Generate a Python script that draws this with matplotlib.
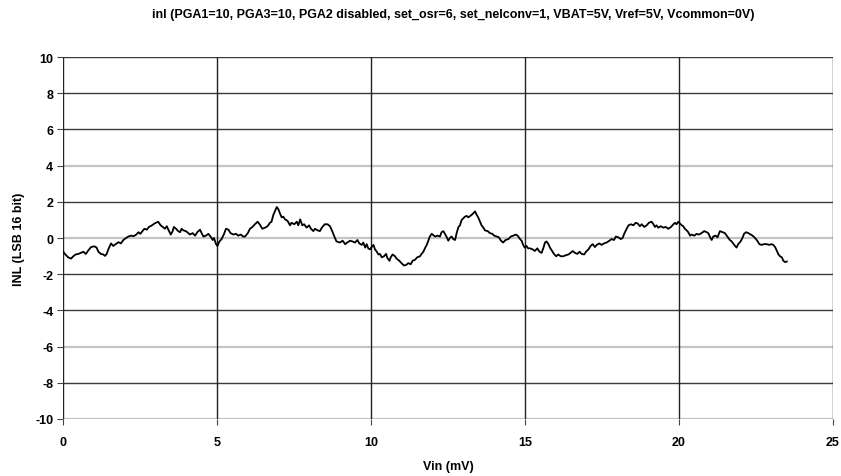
import matplotlib
matplotlib.use("Agg")
import matplotlib.pyplot as plt

plt.rcParams['font.family'] = ['Liberation Sans', 'DejaVu Sans']
plt.rcParams['axes.unicode_minus'] = False

title = "inl (PGA1=10, PGA3=10, PGA2 disabled, set_osr=6, set_nelconv=1, VBAT=5V, Vref=5V, Vcommon=0V)"
x_label = "Vin (mV)"
y_label = "INL (LSB 16 bit)"

vin_mv = [
    0.01, 0.06, 0.17, 0.26, 0.34, 0.41, 0.50, 0.58, 0.66, 0.74, 0.82, 0.91, 1.02, 1.09, 1.15, 1.23,
    1.31, 1.36, 1.42, 1.47, 1.56, 1.63, 1.71, 1.80, 1.88, 1.96, 2.03, 2.12, 2.21, 2.29, 2.38, 2.45,
    2.51, 2.58, 2.64, 2.72, 2.79, 2.88, 2.97,
    3.02, 3.09, 3.17, 3.24, 3.31, 3.37, 3.42, 3.50, 3.56, 3.60, 3.67, 3.74, 3.80, 3.85, 3.91, 3.99,
    4.07, 4.12, 4.21, 4.29, 4.36, 4.45, 4.50, 4.56, 4.64, 4.72, 4.79, 4.86, 4.90, 4.97, 5.01, 5.08,
    5.15, 5.23, 5.29, 5.37, 5.44, 5.53, 5.62, 5.69, 5.77, 5.85,
    5.91, 6.00, 6.07, 6.15, 6.23, 6.32, 6.40, 6.47, 6.56, 6.64, 6.72, 6.77, 6.83, 6.88, 6.94, 6.99,
    7.05, 7.10, 7.15, 7.21, 7.29, 7.37, 7.42, 7.51, 7.59, 7.64, 7.70, 7.77, 7.83, 7.91, 7.99, 8.05,
    8.13, 8.18, 8.27, 8.34, 8.42, 8.50, 8.59, 8.67, 8.74, 8.81, 8.88,
    8.99, 9.08, 9.16, 9.23, 9.32, 9.40, 9.48, 9.56, 9.62, 9.70, 9.75, 9.81, 9.86, 9.91, 9.97, 10.02,
    10.08, 10.13, 10.19, 10.24, 10.29, 10.35, 10.42, 10.49, 10.53, 10.60, 10.64, 10.70, 10.78, 10.83,
    10.92, 10.99, 11.07, 11.14, 11.21, 11.29, 11.35, 11.43, 11.50, 11.59, 11.64, 11.70, 11.75, 11.81,
    11.86, 11.91, 11.97,
    12.08, 12.16, 12.24, 12.29, 12.35, 12.40, 12.45, 12.51, 12.56, 12.62, 12.67, 12.73, 12.78, 12.84,
    12.89, 12.94, 13.00, 13.05, 13.11, 13.16, 13.22, 13.27, 13.32, 13.38, 13.43, 13.48, 13.54, 13.59,
    13.65, 13.70, 13.79, 13.86, 13.94, 14.00, 14.08, 14.15, 14.22, 14.29, 14.37, 14.46, 14.54, 14.62,
    14.70, 14.76, 14.84, 14.89, 14.94, 14.99, 15.05, 15.10,
    15.16, 15.25, 15.32, 15.40, 15.47, 15.54, 15.60, 15.65, 15.70, 15.76, 15.81, 15.87, 15.94, 16.01,
    16.08, 16.16, 16.24, 16.33, 16.41, 16.48, 16.55, 16.62, 16.70, 16.77, 16.84, 16.92, 16.98, 17.06,
    17.13, 17.20, 17.27, 17.33, 17.41, 17.49, 17.56, 17.65, 17.74, 17.81, 17.89, 17.95, 18.03, 18.11,
    18.17, 18.22,
    18.30, 18.36, 18.44, 18.52, 18.59, 18.66, 18.73, 18.79, 18.87, 18.95, 19.02, 19.11, 19.17, 19.22,
    19.27, 19.33, 19.41, 19.49, 19.57, 19.65, 19.74, 19.82, 19.87, 19.92, 19.98, 20.03, 20.09, 20.14,
    20.19, 20.25, 20.30, 20.36, 20.41, 20.50, 20.57, 20.65, 20.73, 20.82, 20.90, 20.95, 21.01, 21.06,
    21.11, 21.19, 21.25,
    21.33, 21.42, 21.49, 21.57, 21.65, 21.71, 21.76, 21.82, 21.87, 21.92, 22.00, 22.07, 22.11, 22.18,
    22.25, 22.33, 22.39, 22.47, 22.54, 22.61, 22.68, 22.76, 22.84, 22.93, 23.01, 23.06, 23.12, 23.17,
    23.23, 23.28, 23.34, 23.39, 23.44, 23.50,
]

inl_lsb = [
    -0.76, -0.88, -1.07, -1.14, -1.00, -0.91, -0.88, -0.82, -0.76, -0.88, -0.69, -0.50, -0.46, -0.53,
    -0.76, -0.88, -0.91, -0.99, -0.88, -0.63, -0.30, -0.44, -0.34, -0.23, -0.30, -0.11, -0.02, 0.08,
    0.13, 0.10, 0.19, 0.32, 0.23, 0.38, 0.51, 0.46, 0.61, 0.69, 0.80,
    0.84, 0.90, 0.70, 0.61, 0.51, 0.65, 0.46, 0.19, 0.38, 0.61, 0.51, 0.38, 0.32, 0.51, 0.42, 0.38,
    0.27, 0.19, 0.27, 0.13, 0.32, 0.46, 0.27, 0.08, 0.13, 0.23, 0.08, -0.11, 0.00, -0.34, -0.44, -0.19,
    -0.06, 0.23, 0.51, 0.46, 0.27, 0.19, 0.23, 0.13, 0.19, 0.08,
    0.08, 0.27, 0.51, 0.61, 0.76, 0.90, 0.72, 0.51, 0.57, 0.65, 0.84, 0.90, 1.28, 1.47, 1.71, 1.60,
    1.33, 1.14, 1.18, 1.03, 0.95, 0.70, 0.84, 0.76, 0.90, 0.70, 1.03, 0.70, 0.76, 0.57, 0.70, 0.51,
    0.38, 0.51, 0.42, 0.38, 0.61, 0.76, 0.76, 0.65, 0.38, 0.08, -0.19,
    -0.25, -0.15, -0.34, -0.25, -0.15, -0.19, -0.25, -0.11, -0.30, -0.38, -0.25, -0.53, -0.34, -0.57,
    -0.63, -0.50, -0.38, -0.63, -0.76, -0.91, -0.88, -1.07, -1.01, -0.88, -1.10, -1.26, -1.07, -0.91,
    -1.01, -1.14, -1.26, -1.39, -1.52, -1.49, -1.39, -1.45, -1.26, -1.20, -1.07, -1.01, -0.88, -0.76,
    -0.57, -0.38, -0.15, 0.08, 0.23,
    0.08, 0.13, 0.08, 0.32, 0.38, 0.23, 0.08, -0.15, 0.00, 0.08, -0.06, -0.11, 0.27, 0.61,
    0.70, 0.99, 1.09, 1.18, 1.22, 1.14, 1.22, 1.28, 1.37, 1.47, 1.28, 1.14, 0.90, 0.70,
    0.57, 0.42, 0.38, 0.27, 0.23, 0.13, 0.08, 0.04, -0.15, -0.25, -0.11, -0.06, 0.08, 0.13,
    0.19, 0.13, -0.06, -0.15, -0.38, -0.53, -0.44, -0.57,
    -0.57, -0.63, -0.72, -0.57, -0.76, -0.82, -0.53, -0.25, -0.19, -0.34, -0.53, -0.69, -0.88, -1.01,
    -0.91, -1.01, -1.01, -0.95, -0.91, -0.82, -0.72, -0.82, -0.88, -0.76, -0.88, -0.91, -0.76, -0.63,
    -0.44, -0.34, -0.50, -0.38, -0.30, -0.38, -0.30, -0.25, -0.15, -0.06, -0.11, 0.08, 0.04, -0.06,
    0.00, 0.23,
    0.51, 0.70, 0.76, 0.70, 0.84, 0.80, 0.65, 0.76, 0.61, 0.70, 0.84, 0.90, 0.76, 0.61,
    0.70, 0.57, 0.65, 0.57, 0.61, 0.51, 0.61, 0.76, 0.84, 0.76, 0.90, 0.80, 0.70, 0.65,
    0.51, 0.42, 0.32, 0.13, 0.19, 0.13, 0.23, 0.19, 0.27, 0.38, 0.32, 0.27, 0.04, -0.11,
    0.08, 0.13, 0.04,
    0.38, 0.32, 0.27, 0.08, -0.11, -0.19, -0.30, -0.44, -0.53, -0.34, -0.19, 0.04, 0.23, 0.32,
    0.27, 0.19, 0.13, 0.00, -0.15, -0.34, -0.38, -0.34, -0.34, -0.38, -0.34, -0.38, -0.50, -0.69,
    -0.91, -1.01, -1.07, -1.26, -1.33, -1.30,
]

x_ticks = [0, 5, 10, 15, 20, 25]
y_ticks = [10, 8, 6, 4, 2, 0, -2, -4, -6, -8, -10]
light_grid = [4, 0, -6, -10]

fig = plt.figure(figsize=(8.41, 4.77), dpi=100)
ax = fig.add_axes([63 / 841, 1 - 420 / 477, (833 - 63) / 841, (420 - 58) / 477])

ax.set_xlim(0, 25)
ax.set_ylim(-10, 10)

for yv in y_ticks:
    col = "#c4c4c4" if yv in light_grid else "#3a3a3a"
    lw = 1.6 if yv in light_grid else 1.0
    ax.axhline(yv, color=col, lw=lw, zorder=1)
for xv in x_ticks:
    ax.axvline(xv, color="#222222", lw=1.0, zorder=1)

ax.plot(vin_mv, inl_lsb, color="black", lw=1.3, zorder=3)

for s in ax.spines.values():
    s.set_visible(False)

ax.set_xticks(x_ticks)
ax.set_yticks(y_ticks)
ax.tick_params(axis="both", direction="out", length=4, width=0.8, color="#444444",
               labelsize=9, pad=3)
for lab in ax.get_xticklabels() + ax.get_yticklabels():
    lab.set_fontweight("bold")
ax.tick_params(axis="x", pad=8)

ax.set_xlabel(x_label, fontsize=9, fontweight="bold", labelpad=9)
ax.set_ylabel(y_label, fontsize=9, fontweight="bold", labelpad=7)
fig.text(453 / 841, 1 - 15 / 477, title, ha="center", va="center", fontsize=9, fontweight="bold")

fig.savefig("out.png", dpi=100)
